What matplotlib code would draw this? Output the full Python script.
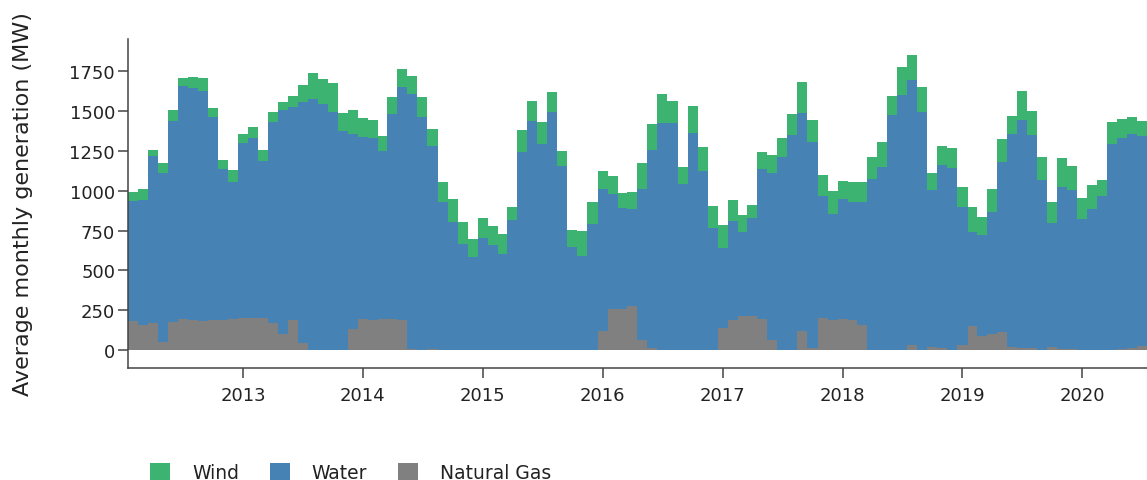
import numpy as np
import pandas as pd
import matplotlib
matplotlib.use("Agg")
import matplotlib.pyplot as plt
import matplotlib.dates as mdates
from matplotlib.patches import Patch

# Monthly data, Feb 2012 - Jul 2020 (average monthly generation, MW)
months = pd.date_range("2012-02-01", periods=102, freq="MS")

gas = [186, 158, 171, 50, 180, 196, 192, 186, 188, 192, 196, 204,
       200, 200, 171, 100, 190, 46, 0, 0, 0, 0, 133, 198,
       192, 194, 194, 190, 6, 0, 6, 0, 0, 0, 0, 0,
       0, 0, 0, 0, 0, 0, 0, 0, 0, 0, 4, 121,
       259, 259, 280, 65, 13, 0, 0, 0, 0, 0, 0, 142,
       192, 217, 215, 196, 67, 4, 4, 123, 13, 203, 190, 194,
       192, 160, 0, 0, 0, 0, 35, 4, 19, 17, 4, 33,
       150, 92, 104, 113, 21, 17, 13, 0, 19, 8, 6, 4,
       4, 2, 4, 6, 17, 25]

water = [751, 784, 1044, 1061, 1257, 1462, 1449, 1441, 1276, 942, 858, 1095,
         1130, 984, 1261, 1404, 1336, 1508, 1575, 1545, 1495, 1374, 1222, 1140,
         1138, 1057, 1287, 1458, 1598, 1464, 1276, 931, 806, 666, 582, 702,
         662, 601, 814, 1240, 1439, 1295, 1491, 1157, 645, 593, 787, 887,
         722, 635, 603, 946, 1242, 1422, 1426, 1042, 1359, 1121, 764, 497,
         616, 522, 614, 940, 1044, 1207, 1347, 1366, 1290, 766, 664, 754,
         739, 769, 1073, 1151, 1476, 1600, 1659, 1489, 985, 1144, 1138, 863,
         593, 633, 765, 1065, 1332, 1424, 1338, 1069, 781, 1017, 998, 819,
         879, 963, 1286, 1322, 1338, 1320]

wind = [53, 69, 40, 62, 67, 48, 69, 77, 54, 60, 76, 56,
        67, 71, 59, 54, 69, 110, 160, 153, 182, 113, 149, 120,
        111, 94, 104, 117, 115, 121, 102, 123, 142, 136, 115, 127,
        119, 128, 82, 142, 121, 137, 125, 90, 109, 152, 136, 115,
        109, 94, 109, 160, 163, 184, 138, 109, 174, 155, 138, 146,
        134, 109, 81, 104, 115, 121, 130, 190, 140, 129, 146, 111,
        123, 123, 136, 156, 119, 173, 158, 155, 105, 119, 123, 127,
        153, 108, 142, 146, 115, 186, 150, 144, 131, 180, 153, 131,
        153, 102, 142, 121, 107, 94]

series_names = ["Wind", "Water", "Natural Gas"]
colors = {"Wind": "#3cb371", "Water": "#4682b4", "Natural Gas": "#808080"}

fig = plt.figure(figsize=(11.47, 4.81), dpi=100)
ax = fig.add_axes([128.3 / 1147, 1 - 369 / 481, 1 - 128.3 / 1147, (369 - 40) / 481])

x = mdates.date2num(months.to_pydatetime())
mids = (x[:-1] + x[1:]) / 2
edges = np.concatenate([[x[0] - (x[1] - x[0]) / 2], mids, [x[-1] + (x[-1] - x[-2]) / 2]])

g = np.array(gas, dtype=float)
w = np.array(water, dtype=float)
wi = np.array(wind, dtype=float)

ax.stairs(g, edges, baseline=0, fill=True, color=colors["Natural Gas"], lw=0)
ax.stairs(g + w, edges, baseline=g, fill=True, color=colors["Water"], lw=0)
ax.stairs(g + w + wi, edges, baseline=g + w, fill=True, color=colors["Wind"], lw=0)

ax.set_xlim(edges[0], edges[-1])
ax.set_ylim(-111, 1950)
ax.set_yticks(np.arange(0, 1751, 250))
ax.xaxis.set_major_locator(mdates.YearLocator())
ax.xaxis.set_major_formatter(mdates.DateFormatter("%Y"))

for s in ["top", "right"]:
    ax.spines[s].set_visible(False)
for s in ["left", "bottom"]:
    ax.spines[s].set_color("#444444")
    ax.spines[s].set_linewidth(1.1)

ax.tick_params(axis="both", colors="#444444", width=1.1, length=7, labelsize=13,
               labelcolor="#222222")
ax.tick_params(axis="y", pad=2.5)
ax.tick_params(axis="x", pad=6)

ax.set_ylabel("Average monthly generation (MW)", fontsize=16, color="#222222")
ax.yaxis.set_label_coords((33 - 128.3) / (1147 - 128.3), 0.5)

handles = [Patch(facecolor=colors[n], edgecolor="none", label=n) for n in series_names]
fig.legend(handles=handles, loc="lower left", bbox_to_anchor=(150 / 1147, -0.004),
           ncol=3, frameon=False, fontsize=13.5, handlelength=1.07, handleheight=1.07,
           handletextpad=1.17, columnspacing=1.64, borderpad=0, borderaxespad=0,
           labelcolor="#222222")

fig.savefig("out.png", dpi=100)
